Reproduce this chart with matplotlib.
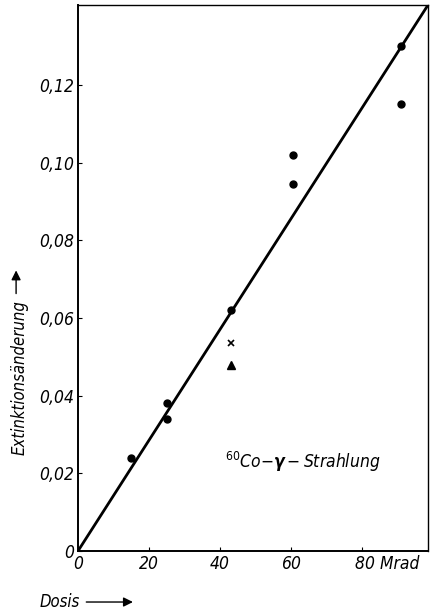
import matplotlib
matplotlib.use('agg')
import numpy as np
import matplotlib.pyplot as plt
import matplotlib.transforms as mtransforms
from matplotlib import font_manager
from matplotlib.ticker import FuncFormatter

# measured points (dose in Mrad, extinction change)
dose_dots = [15, 25, 25, 43, 60.5, 60.5, 91, 91]
ext_dots = [0.024, 0.038, 0.034, 0.062, 0.102, 0.0945, 0.130, 0.115]
dose_cross = [43]
ext_cross = [0.0536]
dose_tri = [43]
ext_tri = [0.048]
# fitted line
dose_fit = [0, 98.6]
ext_fit = [0, 0.1406]

xticks = [0, 20, 40, 60, 80]
xticklabels = ['0', '20', '40', '60', '80 Mrad']
yticks = [0, 0.02, 0.04, 0.06, 0.08, 0.10, 0.12]

# pick a condensed face if one is there
narrow = 'DejaVu Sans'
stretch = 'normal'
for name, st in [('Liberation Sans Narrow', 'normal'), ('DejaVu Sans', 'condensed'),
                 ('Roboto Condensed', 'normal'), ('Open Sans', 'condensed')]:
    try:
        fp = font_manager.FontProperties(family=name, stretch=st)
        path = font_manager.findfont(fp, fallback_to_default=False)
        if 'ondensed' in path or 'Narrow' in path or name == 'Liberation Sans Narrow':
            narrow, stretch = name, st
            break
    except Exception:
        pass
plt.rcParams['font.family'] = [narrow, 'DejaVu Sans']
plt.rcParams['font.stretch'] = stretch

fig = plt.figure(figsize=(4.35, 6.11), dpi=100)
ax = fig.add_axes([0.1793, 0.0982, 0.9839 - 0.1793, 0.9918 - 0.0982])

ax.plot(dose_fit, ext_fit, color='black', linewidth=2.0, solid_capstyle='butt')
ax.plot(dose_dots, ext_dots, 'o', color='black', markersize=5)
ax.plot(dose_cross, ext_cross, 'x', color='black', markersize=5, markeredgewidth=1.2)
ax.plot(dose_tri, ext_tri, '^', color='black', markersize=5.5)

ax.set_xlim(0, 98.6)
ax.set_ylim(0, 0.1406)
ax.set_xticks(xticks)
ax.set_yticks(yticks)
ax.set_xticklabels(xticklabels)
ax.yaxis.set_major_formatter(FuncFormatter(
    lambda v, p: '0' if v == 0 else ('%.2f' % v).replace('.', ',')))
ax.tick_params(direction='in', length=3, width=0.8, labelsize=12.5, pad=3)
for lab in ax.get_xticklabels() + ax.get_yticklabels():
    lab.set_style('italic')
# last x label: number on the tick, unit to the right
lbl = ax.get_xticklabels()[-1]
lbl.set_horizontalalignment('left')
lbl.set_transform(lbl.get_transform() + mtransforms.ScaledTranslation(-7 / 100, 0, fig.dpi_scale_trans))

for s in ['left', 'bottom']:
    ax.spines[s].set_linewidth(1.4)
for s in ['top', 'right']:
    ax.spines[s].set_linewidth(1.0)

ax.text(41.5, 0.0215, r'$^{60}$Co$-\boldsymbol{\gamma}-$Strahlung', fontsize=12.5,
        style='italic', ha='left', va='baseline')

fig.text(0.092, 0.007, 'Dosis', fontsize=12, style='italic', ha='left', va='baseline')
ax.annotate('', xy=(0.312, 0.0147), xytext=(0.192, 0.0147), xycoords='figure fraction',
            arrowprops=dict(arrowstyle='-|>', color='black', lw=1.0, mutation_scale=14))

fig.text(0.046, 0.382, 'Extinktionsänderung', fontsize=12, style='italic',
         rotation=90, ha='center', va='center')
ax.annotate('', xy=(0.037, 0.562), xytext=(0.037, 0.515), xycoords='figure fraction',
            arrowprops=dict(arrowstyle='-|>', color='black', lw=1.0, mutation_scale=14))

fig.savefig('out.png', dpi=100)
